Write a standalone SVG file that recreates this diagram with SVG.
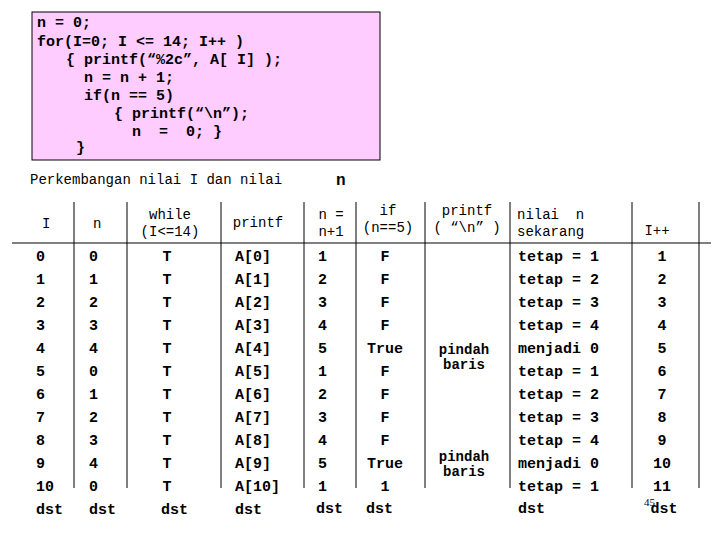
<svg xmlns="http://www.w3.org/2000/svg" width="720" height="540" viewBox="0 0 720 540">
<style>
text{font-family:"Liberation Mono","DejaVu Sans Mono",monospace;fill:#000}
.c{font-size:15px;font-weight:bold}
.h{font-size:14px}
.d{font-size:15px;font-weight:bold}
.p{font-size:14px;font-weight:bold}
.m{text-anchor:middle}
line{stroke:#000;stroke-width:1}
</style>
<rect width="720" height="540" fill="#fff"/>
<g id="code">
<rect x="32" y="12" width="348" height="148" fill="#FFCCFF" stroke="#000" stroke-width="1"/>
<text class="c" x="37" y="27" xml:space="preserve">n = 0;</text>
<text class="c" x="37" y="46" xml:space="preserve">for(I=0; I &lt;= 14; I++ )</text>
<text class="c" x="66" y="64" xml:space="preserve">{ printf(“%2c”, A[ I] );</text>
<text class="c" x="84" y="82" xml:space="preserve">n = n + 1;</text>
<text class="c" x="84" y="100" xml:space="preserve">if(n == 5)</text>
<text class="c" x="114" y="118" xml:space="preserve">{ printf(“\n”);</text>
<text class="c" x="132" y="136" xml:space="preserve">n  =  0; }</text>
<text class="c" x="76" y="152" xml:space="preserve">}</text>
</g>
<g id="title">
<text class="h" x="30" y="184">Perkembangan nilai I dan nilai</text>
<text x="336" y="185" style="font-size:16px;font-weight:bold">n</text>
</g>
<g id="grid">
<line x1="12" y1="243" x2="711" y2="243"/>
<line x1="74" y1="202" x2="74" y2="488"/>
<line x1="127" y1="202" x2="127" y2="488"/>
<line x1="221" y1="202" x2="221" y2="488"/>
<line x1="304" y1="202" x2="304" y2="488"/>
<line x1="356" y1="202" x2="356" y2="488"/>
<line x1="425" y1="202" x2="425" y2="488"/>
<line x1="510" y1="202" x2="510" y2="488"/>
<line x1="632" y1="202" x2="632" y2="488"/>
<line x1="699" y1="202" x2="699" y2="488"/>
</g>
<g id="header">
<text class="h" x="42" y="228">I</text>
<text class="h" x="93" y="228">n</text>
<text class="h m" x="170" y="219">while</text>
<text class="h m" x="170" y="236">(I&lt;=14)</text>
<text class="h m" x="258" y="227">printf</text>
<text class="h m" x="331" y="219">n =</text>
<text class="h m" x="331" y="236">n+1</text>
<text class="h m" x="388" y="215">if</text>
<text class="h m" x="388" y="232">(n==5)</text>
<text class="h m" x="467" y="215">printf</text>
<text class="h m" x="467" y="232" xml:space="preserve">( “\n” )</text>
<text class="h" x="517" y="219" xml:space="preserve">nilai  n</text>
<text class="h" x="517" y="236">sekarang</text>
<text class="h m" x="657" y="235">I++</text>
</g>
<g id="rows">
<text class="d" x="36" y="261">0</text><text class="d" x="89" y="261">0</text><text class="d m" x="167" y="261">T</text><text class="d" x="235" y="261">A[0]</text><text class="d" x="318" y="261">1</text><text class="d m" x="385" y="261">F</text><text class="d" x="518" y="261">tetap = 1</text><text class="d m" x="662" y="261">1</text>
<text class="d" x="36" y="284">1</text><text class="d" x="89" y="284">1</text><text class="d m" x="167" y="284">T</text><text class="d" x="235" y="284">A[1]</text><text class="d" x="318" y="284">2</text><text class="d m" x="385" y="284">F</text><text class="d" x="518" y="284">tetap = 2</text><text class="d m" x="662" y="284">2</text>
<text class="d" x="36" y="307">2</text><text class="d" x="89" y="307">2</text><text class="d m" x="167" y="307">T</text><text class="d" x="235" y="307">A[2]</text><text class="d" x="318" y="307">3</text><text class="d m" x="385" y="307">F</text><text class="d" x="518" y="307">tetap = 3</text><text class="d m" x="662" y="307">3</text>
<text class="d" x="36" y="330">3</text><text class="d" x="89" y="330">3</text><text class="d m" x="167" y="330">T</text><text class="d" x="235" y="330">A[3]</text><text class="d" x="318" y="330">4</text><text class="d m" x="385" y="330">F</text><text class="d" x="518" y="330">tetap = 4</text><text class="d m" x="662" y="330">4</text>
<text class="d" x="36" y="353">4</text><text class="d" x="89" y="353">4</text><text class="d m" x="167" y="353">T</text><text class="d" x="235" y="353">A[4]</text><text class="d" x="318" y="353">5</text><text class="d m" x="385" y="353">True</text><text class="d" x="518" y="353">menjadi 0</text><text class="d m" x="662" y="353">5</text>
<text class="d" x="36" y="376">5</text><text class="d" x="89" y="376">0</text><text class="d m" x="167" y="376">T</text><text class="d" x="235" y="376">A[5]</text><text class="d" x="318" y="376">1</text><text class="d m" x="385" y="376">F</text><text class="d" x="518" y="376">tetap = 1</text><text class="d m" x="662" y="376">6</text>
<text class="d" x="36" y="399">6</text><text class="d" x="89" y="399">1</text><text class="d m" x="167" y="399">T</text><text class="d" x="235" y="399">A[6]</text><text class="d" x="318" y="399">2</text><text class="d m" x="385" y="399">F</text><text class="d" x="518" y="399">tetap = 2</text><text class="d m" x="662" y="399">7</text>
<text class="d" x="36" y="422">7</text><text class="d" x="89" y="422">2</text><text class="d m" x="167" y="422">T</text><text class="d" x="235" y="422">A[7]</text><text class="d" x="318" y="422">3</text><text class="d m" x="385" y="422">F</text><text class="d" x="518" y="422">tetap = 3</text><text class="d m" x="662" y="422">8</text>
<text class="d" x="36" y="445">8</text><text class="d" x="89" y="445">3</text><text class="d m" x="167" y="445">T</text><text class="d" x="235" y="445">A[8]</text><text class="d" x="318" y="445">4</text><text class="d m" x="385" y="445">F</text><text class="d" x="518" y="445">tetap = 4</text><text class="d m" x="662" y="445">9</text>
<text class="d" x="36" y="468">9</text><text class="d" x="89" y="468">4</text><text class="d m" x="167" y="468">T</text><text class="d" x="235" y="468">A[9]</text><text class="d" x="318" y="468">5</text><text class="d m" x="385" y="468">True</text><text class="d" x="518" y="468">menjadi 0</text><text class="d m" x="662" y="468">10</text>
<text class="d" x="36" y="491">10</text><text class="d" x="89" y="491">0</text><text class="d m" x="167" y="491">T</text><text class="d" x="235" y="491">A[10]</text><text class="d" x="318" y="491">1</text><text class="d m" x="385" y="491">1</text><text class="d" x="518" y="491">tetap = 1</text><text class="d m" x="662" y="491">11</text>
<text class="d" x="36" y="514">dst</text><text class="d" x="89" y="514">dst</text><text class="d" x="161" y="514">dst</text><text class="d" x="235" y="514">dst</text><text class="d" x="316" y="513">dst</text><text class="d" x="366" y="513">dst</text><text class="d" x="518" y="513">dst</text><text class="d m" x="664" y="513">dst</text>
<text class="p m" x="464" y="354">pindah</text><text class="p m" x="464" y="369">baris</text>
<text class="p m" x="464" y="461">pindah</text><text class="p m" x="464" y="476">baris</text>
<text x="644" y="506" style="font-family:'Liberation Serif',serif;font-size:11px">45</text>
</g>
</svg>
